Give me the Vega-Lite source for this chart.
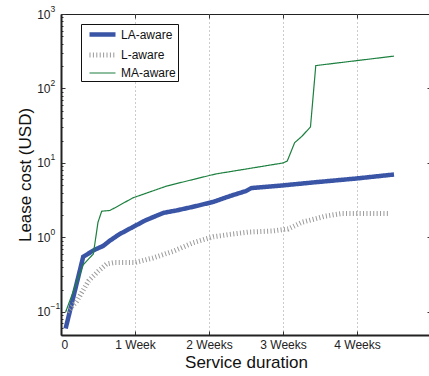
{
  "$schema": "https://vega.github.io/schema/vega-lite/v6.json",
  "width": 370,
  "height": 321,
  "autosize": "none",
  "padding": {"left": 61, "top": 14, "right": 0, "bottom": 41},
  "config": {
    "font": "Liberation Sans",
    "view": {"stroke": "#222", "strokeWidth": 1}
  },
  "data": {
    "values": [
      {"s": "LA-aware", "t": 0.44, "v": 0.06},
      {"s": "LA-aware", "t": 2.1, "v": 0.55},
      {"s": "LA-aware", "t": 3.15, "v": 0.68},
      {"s": "LA-aware", "t": 4.0, "v": 0.77},
      {"s": "LA-aware", "t": 4.6, "v": 0.9},
      {"s": "LA-aware", "t": 5.5, "v": 1.1},
      {"s": "LA-aware", "t": 6.8, "v": 1.38},
      {"s": "LA-aware", "t": 8.0, "v": 1.7},
      {"s": "LA-aware", "t": 9.7, "v": 2.14},
      {"s": "LA-aware", "t": 10.9, "v": 2.3},
      {"s": "LA-aware", "t": 12.5, "v": 2.58},
      {"s": "LA-aware", "t": 14.4, "v": 3.0},
      {"s": "LA-aware", "t": 16.0, "v": 3.6},
      {"s": "LA-aware", "t": 17.5, "v": 4.2},
      {"s": "LA-aware", "t": 18.0, "v": 4.6},
      {"s": "LA-aware", "t": 21.0, "v": 5.0},
      {"s": "LA-aware", "t": 24.0, "v": 5.5},
      {"s": "LA-aware", "t": 28.0, "v": 6.2},
      {"s": "LA-aware", "t": 31.5, "v": 7.0},
      {"s": "L-aware", "t": 0.6, "v": 0.1},
      {"s": "L-aware", "t": 1.5, "v": 0.14},
      {"s": "L-aware", "t": 2.6, "v": 0.26},
      {"s": "L-aware", "t": 3.5, "v": 0.35},
      {"s": "L-aware", "t": 4.3, "v": 0.44},
      {"s": "L-aware", "t": 5.0, "v": 0.46},
      {"s": "L-aware", "t": 7.0, "v": 0.46},
      {"s": "L-aware", "t": 8.7, "v": 0.53},
      {"s": "L-aware", "t": 10.6, "v": 0.65},
      {"s": "L-aware", "t": 12.5, "v": 0.85},
      {"s": "L-aware", "t": 14.4, "v": 1.02},
      {"s": "L-aware", "t": 16.0, "v": 1.1},
      {"s": "L-aware", "t": 17.7, "v": 1.18},
      {"s": "L-aware", "t": 20.0, "v": 1.22},
      {"s": "L-aware", "t": 21.5, "v": 1.3},
      {"s": "L-aware", "t": 22.8, "v": 1.6},
      {"s": "L-aware", "t": 25.0, "v": 1.93},
      {"s": "L-aware", "t": 26.6, "v": 2.1},
      {"s": "L-aware", "t": 31.1, "v": 2.1},
      {"s": "MA-aware", "t": 0.44, "v": 0.1},
      {"s": "MA-aware", "t": 2.1, "v": 0.43},
      {"s": "MA-aware", "t": 3.06, "v": 0.6},
      {"s": "MA-aware", "t": 3.5, "v": 1.6},
      {"s": "MA-aware", "t": 3.85, "v": 2.25},
      {"s": "MA-aware", "t": 4.6, "v": 2.3},
      {"s": "MA-aware", "t": 5.1, "v": 2.5},
      {"s": "MA-aware", "t": 6.8, "v": 3.4},
      {"s": "MA-aware", "t": 10.0, "v": 4.9},
      {"s": "MA-aware", "t": 12.5, "v": 6.0},
      {"s": "MA-aware", "t": 14.6, "v": 7.1},
      {"s": "MA-aware", "t": 21.0, "v": 10.0},
      {"s": "MA-aware", "t": 21.4, "v": 10.6},
      {"s": "MA-aware", "t": 22.1, "v": 18.7},
      {"s": "MA-aware", "t": 22.8, "v": 22.9},
      {"s": "MA-aware", "t": 23.6, "v": 30.5},
      {"s": "MA-aware", "t": 24.1, "v": 203},
      {"s": "MA-aware", "t": 31.5, "v": 272}
    ]
  },
  "layer": [
    {
      "mark": {"type": "line", "clip": true},
      "encoding": {
        "x": {
          "field": "t", "type": "quantitative",
          "scale": {"domain": [0, 35], "nice": false, "zero": false},
          "axis": {
            "orient": "bottom",
            "values": [0, 7, 14, 21, 28],
            "labelExpr": "datum.value == 0 ? '0' : datum.value == 7 ? '1 Week' : (datum.value / 7) + ' Weeks'",
            "title": "Service duration",
            "titleFontSize": 17, "titleFontWeight": "normal", "titleColor": "#111", "titlePadding": 4,
            "labelFontSize": 12, "labelColor": "#222", "labelPadding": 8,
            "tickSize": -4, "tickColor": "#333", "tickWidth": 1,
            "domainColor": "#222", "domainWidth": 2,
            "grid": true, "gridDash": [1, 3], "gridColor": "#999", "gridWidth": 1
          }
        },
        "y": {
          "field": "v", "type": "quantitative",
          "scale": {"type": "log", "domain": [0.049, 1000], "nice": false},
          "axis": {
            "orient": "left",
            "values": [0.06, 0.07, 0.08, 0.09, 0.1, 0.2, 0.3, 0.4, 0.5, 0.6, 0.7, 0.8, 0.9, 1, 2, 3, 4, 5, 6, 7, 8, 9, 10, 20, 30, 40, 50, 60, 70, 80, 90, 100, 200, 300, 400, 500, 600, 700, 800, 900, 1000],
            "labelExpr": "indexof([0.1,1,10,100,1000], datum.value) >= 0 ? '10' : ''",
            "title": "Lease cost (USD)",
            "titleFontSize": 17, "titleFontWeight": "normal", "titleColor": "#111", "titlePadding": 2,
            "labelFontSize": 12, "labelColor": "#222", "labelPadding": 15,
            "tickSize": {"condition": {"test": "indexof([0.1,1,10,100,1000], datum.value) >= 0", "value": -4}, "value": -2},
            "tickColor": "#333", "tickWidth": 1,
            "domainColor": "#222", "domainWidth": 2,
            "grid": false
          }
        },
        "color": {
          "field": "s", "type": "nominal",
          "scale": {"domain": ["LA-aware", "L-aware", "MA-aware"], "range": ["#3a54a6", "#9a9a9a", "#1d8040"]},
          "legend": {
            "title": null, "orient": "none", "legendX": 20, "legendY": 10,
            "symbolType": "M-0.333,0H4", "symbolSize": 144,
            "labelFontSize": 12, "labelColor": "#111", "labelOffset": 21,
            "strokeColor": "#111", "fillColor": "white", "padding": 2, "rowPadding": 0.5, "cornerRadius": 0
          }
        },
        "strokeDash": {
          "field": "s", "type": "nominal",
          "scale": {"domain": ["LA-aware", "L-aware", "MA-aware"], "range": [[1, 0], [1, 2.4], [1, 0]]},
          "legend": null
        },
        "strokeWidth": {
          "field": "s", "type": "ordinal",
          "scale": {"type": "ordinal", "domain": ["LA-aware", "L-aware", "MA-aware"], "range": [4.5, 5, 1.2]},
          "legend": null
        }
      }
    },
    {
      "mark": {"type": "line", "opacity": 0},
      "encoding": {
        "x": {
          "field": "t", "type": "quantitative",
          "axis": {"orient": "top", "values": [7, 14, 21, 28], "labels": false, "title": null, "domain": false, "tickSize": -4, "tickColor": "#333", "grid": false}
        },
        "y": {
          "field": "v", "type": "quantitative",
          "axis": {"orient": "right", "values": [0.1, 1, 10, 100], "labels": false, "title": null, "domain": false, "tickSize": -4, "tickColor": "#333", "grid": false}
        },
        "detail": {"field": "s"}
      }
    },
    {
      "mark": {"type": "line", "opacity": 0},
      "encoding": {
        "x": {"field": "t", "type": "quantitative", "axis": null},
        "y": {
          "field": "v", "type": "quantitative",
          "axis": {
            "orient": "left", "values": [0.1, 1, 10, 100, 1000],
            "labelExpr": "datum.value == 1000 ? '3' : datum.value == 100 ? '2' : datum.value == 10 ? '1' : datum.value == 1 ? '0' : '−1'",
            "labelAlign": "left", "labelPadding": 11, "labelOffset": -6, "labelFontSize": 8.5, "labelColor": "#222",
            "ticks": false, "domain": false, "title": null, "grid": false
          }
        },
        "detail": {"field": "s"}
      }
    }
  ],
  "resolve": {"axis": {"x": "independent", "y": "independent"}}
}
